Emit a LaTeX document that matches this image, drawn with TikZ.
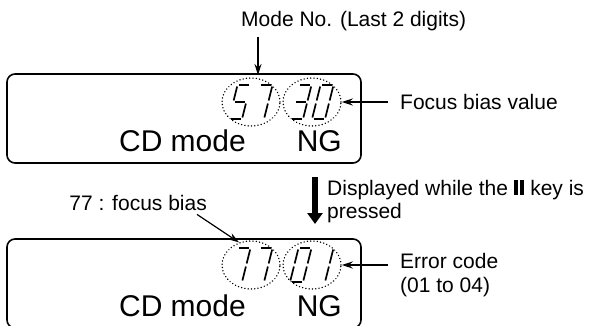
\documentclass[tikz,border=0pt]{standalone}
\usepackage{fontspec}
\setmainfont{Liberation Sans}
\usetikzlibrary{shapes.geometric, arrows.meta, positioning, calc}

% pause key symbol
\newcommand{\pausebars}{\rule{4pt}{15pt}\hspace{2.5pt}\rule{4pt}{15pt}}

% one slanted seven-segment digit, bottom-left at (#1,#2)
\newcommand{\lcddigit}[3]{%
  \begin{scope}[shift={(#1,#2)}, xslant=0.25]
    \foreach \s in {#3} {\draw[segment, seg \s];}
  \end{scope}}

\tikzset{
  seg a/.style={insert path={(1.5,-34) -- (11.5,-34)}},
  seg b/.style={insert path={(13,-32.5) -- (13,-18.5)}},
  seg c/.style={insert path={(13,-15.5) -- (13,-1.5)}},
  seg d/.style={insert path={(1.5,0) -- (11.5,0)}},
  seg e/.style={insert path={(0,-1.5) -- (0,-15.5)}},
  seg f/.style={insert path={(0,-18.5) -- (0,-32.5)}},
  seg g/.style={insert path={(1.5,-17) -- (11.5,-17)}}
}

\begin{document}
\begin{tikzpicture}[x=1pt, y=-1pt,
    lcd/.style={draw, line width=1.6pt, rounded corners=8pt, minimum width=354pt, minimum height=89pt, inner sep=0pt},
    ring/.style={ellipse, draw, line width=1.5pt, dash pattern=on 0.1pt off 3.2pt, line cap=round, minimum width=58pt, minimum height=48pt, inner sep=0pt},
    segment/.style={line width=1.7pt},
    lcdtext/.style={font=\fontsize{30}{34}\selectfont, inner sep=0pt},
    note/.style={font=\fontsize{21}{24}\selectfont, inner sep=0pt},
    pointer/.style={-{Stealth[length=11pt, width=7pt]}, line width=1.2pt},
    bigarrow/.style={-{Triangle[length=11pt, width=15pt]}, line width=6pt}
  ]
  \clip (0,0) rectangle (602,325);

  % First display
  \node[lcd] (lcdtop) at (184,118.5) {};
  \node[ring] (ring57) at (251,102) {};
  \node[ring] (ring30) at (312,102) {};
  \lcddigit{229}{119}{a,f,g,c,d}
  \lcddigit{251}{119}{a,b,c}
  \lcddigit{290}{119}{a,b,g,c,d}
  \lcddigit{312}{119}{a,b,c,d,e,f}
  \node[lcdtext, anchor=base east] (cdtop) at (246,151) {CD mode};
  \node[lcdtext, anchor=base east] (ngtop) at (342,151) {NG};

  \node[note, anchor=base west] (modeno) at (241,26) {Mode No. (Last 2 digits)};
  \coordinate (modetip) at (258,75);
  \draw[pointer, shorten <=6pt] (modeno.south -| modetip) -- (modetip);
  \node[note, anchor=base west] (focus) at (400,109) {Focus bias value};
  \draw[pointer, shorten <=12pt] (focus.west |- ring30.east) -- (ring30.east);

  % Key pressed
  \coordinate (showtop) at (315,177);
  \coordinate (showtip) at (315,224);
  \draw[bigarrow] (showtop) -- (showtip);
  \node[note, anchor=base west] (showkey) at (327,195) {Displayed while the \pausebars{} key is};
  \node[note, anchor=base west] (pressed) at ([yshift=-23pt]showkey.base west) {pressed};

  % Second display
  \node[lcd] (lcdbot) at (184,283.5) {};
  \node[ring] (ring77) at (251,265) {};
  \node[ring] (ring01) at (312,265) {};
  \lcddigit{229}{282}{a,b,c}
  \lcddigit{251}{282}{a,b,c}
  \lcddigit{290}{282}{a,b,c,d,e,f}
  \lcddigit{312}{282}{b,c}
  \node[lcdtext, anchor=base east] (cdbot) at (246,316) {CD mode};
  \node[lcdtext, anchor=base east] (ngbot) at (342,316) {NG};

  \node[note, anchor=base east] (fbias) at (207,210) {77 : focus bias};
  \draw[pointer] ([xshift=-10pt, yshift=-4pt]fbias.south east) -- (ring77.118);
  \node[note, anchor=base west] (errcode) at (400,268) {Error code};
  \node[note, anchor=base west] (errrange) at ([yshift=-24pt]errcode.base west) {(01 to 04)};
  \draw[pointer, shorten <=12pt] (errcode.west |- ring01.east) -- (ring01.east);
\end{tikzpicture}
\end{document}
